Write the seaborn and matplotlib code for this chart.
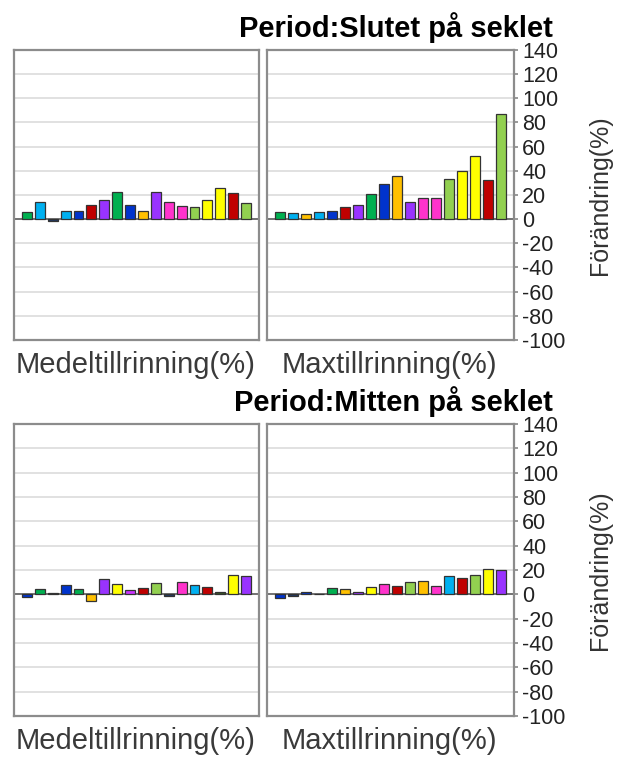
import numpy as np
import pandas as pd
import matplotlib
matplotlib.use("Agg")
import matplotlib.pyplot as plt
import seaborn as sns

# färger som används i staplarna
GREEN = "#00B050"
CYAN = "#00B0F0"
BLUE = "#0033CC"
RED = "#C00000"
PURPLE = "#9933FF"
ORANGE = "#FFC000"
PINK = "#FF33CC"
LGREEN = "#92D050"
YELLOW = "#FFFF00"
DARK = "#1F3864"
DGREEN = "#385723"

# Period: Slutet på seklet
slut_medel = [6, 14, -1.5, 7, 7, 12, 16, 22.5, 12, 7, 22.5, 14, 11, 10, 16, 26, 21.5, 13.5]
slut_medel_col = [GREEN, CYAN, DARK, CYAN, BLUE, RED, PURPLE, GREEN, BLUE, ORANGE,
                  PURPLE, PINK, PINK, LGREEN, YELLOW, YELLOW, RED, LGREEN]
slut_max = [6, 5, 4, 6, 7, 10, 12, 20.5, 29, 36, 14, 17.5, 17.5, 33, 40, 52.5, 32, 87]
slut_max_col = [GREEN, CYAN, ORANGE, CYAN, BLUE, RED, PURPLE, GREEN, BLUE, ORANGE,
                PURPLE, PINK, PINK, LGREEN, YELLOW, YELLOW, RED, LGREEN]

# Period: Mitten på seklet
mitt_medel = [-2, 4.4, 1.4, 7.7, 4, -5.5, 13, 8.5, 3.3, 5.2, 9.6, -1, 10, 7.7, 6.3, 2, 15.6, 15]
mitt_medel_col = [BLUE, GREEN, DGREEN, BLUE, GREEN, ORANGE, PURPLE, YELLOW, "#CC33FF", RED,
                  LGREEN, DARK, PINK, CYAN, RED, DGREEN, YELLOW, PURPLE]
mitt_max = [-2.7, -1.4, 2, 0, 5.2, 4, 2.2, 6.3, 8.2, 7, 10, 11.2, 7, 14.8, 13.4, 15.6, 20.8, 19.7]
mitt_max_col = [BLUE, DARK, BLUE, GREEN, GREEN, ORANGE, PURPLE, YELLOW, PINK, RED,
                LGREEN, ORANGE, PINK, CYAN, RED, LGREEN, YELLOW, PURPLE]

yticks = list(range(-100, 141, 20))
titles = ["Period:Slutet på seklet", "Period:Mitten på seklet"]
xlabels = ["Medeltillrinning(%)", "Maxtillrinning(%)"]
ylabel = "Förändring(%)"

sns.set_theme(style="white")
plt.rcParams["font.family"] = ["Liberation Sans", "DejaVu Sans"]
plt.rcParams["axes.unicode_minus"] = False

W, H = 621, 758
fig = plt.figure(figsize=(W / 100, H / 100), dpi=100)


def add_ax(x0, y0, x1, y1):
    # pixelkoordinater -> figurfraktioner
    return fig.add_axes([x0 / W, 1 - y1 / H, (x1 - x0) / W, (y1 - y0) / H])


def draw_panel(ax, values, colors, right):
    df = pd.DataFrame({"pos": range(len(values)), "val": values})
    sns.barplot(data=df, x="pos", y="val", hue="pos", palette=colors, legend=False,
                saturation=1, width=0.77, edgecolor="#333333", linewidth=0.9,
                ax=ax, zorder=3)
    ax.set_xlim(-1, len(values))
    ax.set_ylim(-100, 140)
    ax.set_yticks(yticks)
    ax.set_xticks([])
    ax.set_xlabel("")
    ax.set_ylabel("")
    ax.grid(axis="y", color="#DCDCDC", lw=1.2, zorder=0)
    ax.axhline(0, color="#555555", lw=1.1, zorder=2)
    for s in ax.spines.values():
        s.set_color("#8C8C8C")
        s.set_linewidth(1.6)
    if right:
        ax.yaxis.tick_right()
        ax.tick_params(axis="y", length=3, color="#8C8C8C", labelsize=15.5, pad=3,
                       labelcolor="#222222")
        ax.yaxis.set_label_position("right")
        ax.set_ylabel(ylabel, fontsize=18, color="#333333", labelpad=16)
    else:
        ax.tick_params(axis="y", length=3, color="#8C8C8C", labelleft=False)


rows = [
    (50, 340, slut_medel, slut_medel_col, slut_max, slut_max_col, 28, 365),
    (424, 716, mitt_medel, mitt_medel_col, mitt_max, mitt_max_col, 402, 741),
]
for i, (y0, y1, lv, lc, rv, rc, ty, ly) in enumerate(rows):
    axl = add_ax(14, y0, 259, y1)
    axr = add_ax(267, y0, 514, y1)
    draw_panel(axl, lv, lc, False)
    draw_panel(axr, rv, rc, True)
    fig.text(553 / W, 1 - ty / H, titles[i], ha="right", va="center",
             fontsize=21, fontweight="bold", color="black")
    fig.text(16 / W, 1 - ly / H, xlabels[0], ha="left", va="center",
             fontsize=21, color="#3A3A3A")
    fig.text(282 / W, 1 - ly / H, xlabels[1], ha="left", va="center",
             fontsize=21, color="#3A3A3A")

fig.savefig("out.png", dpi=100)
